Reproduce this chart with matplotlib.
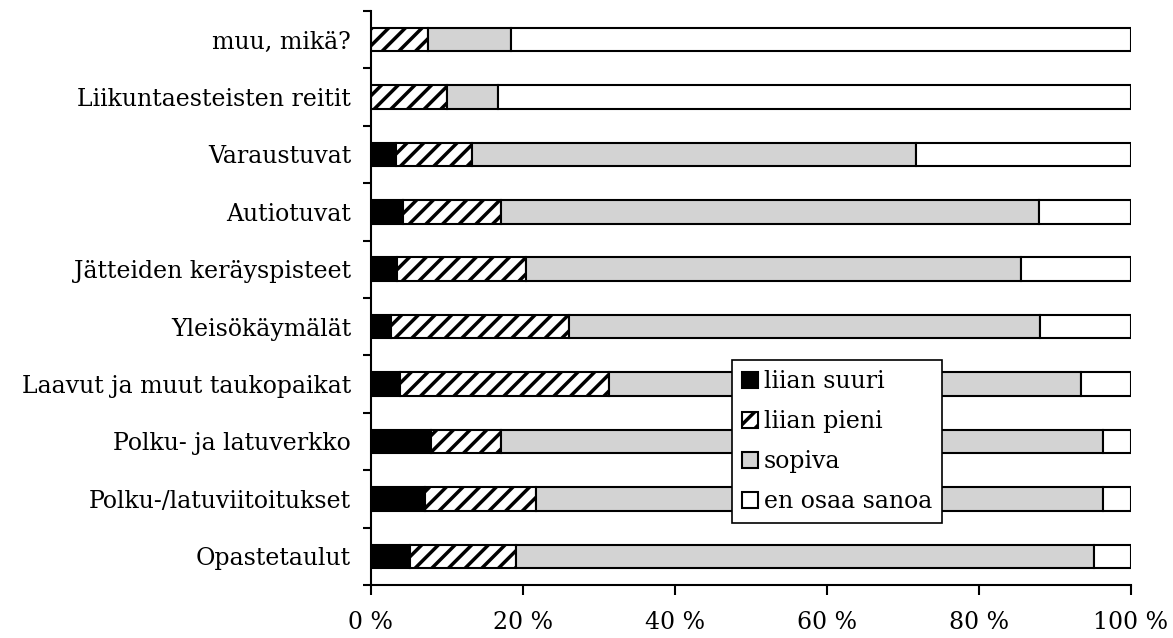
import matplotlib
matplotlib.use('Agg')
import matplotlib.pyplot as plt
import numpy as np

plt.rcParams['font.family'] = 'DejaVu Serif'
plt.rcParams['hatch.linewidth'] = 2.5

# kategoriat ylhäältä alas
categories = ['muu, mikä?', 'Liikuntaesteisten reitit', 'Varaustuvat', 'Autiotuvat',
              'Jätteiden keräyspisteet', 'Yleisökäymälät', 'Laavut ja muut taukopaikat',
              'Polku- ja latuverkko', 'Polku-/latuviitoitukset', 'Opastetaulut']
liian_suuri = [0.0, 0.0, 3.3, 4.2, 3.4, 2.7, 3.9, 7.9, 7.1, 5.2]
liian_pieni = [7.6, 10.1, 10.0, 12.9, 17.1, 23.4, 27.4, 9.3, 14.7, 13.9]
sopiva = [10.8, 6.7, 58.4, 70.8, 65.1, 62.0, 62.2, 79.2, 74.6, 76.0]
en_osaa = [81.6, 83.2, 28.3, 12.1, 14.4, 11.9, 6.5, 3.6, 3.6, 4.9]
series_names = ['liian suuri', 'liian pieni', 'sopiva', 'en osaa sanoa']

fig = plt.figure(figsize=(11.73, 6.38), dpi=100)
ax = fig.add_axes([0.316, 0.083, 0.648, 0.9])

y = np.arange(len(categories))
left = np.zeros(len(categories))
styles = [dict(color='black'), dict(color='white', hatch='//'),
          dict(color='#d3d3d3'), dict(color='white')]
for vals, name, st in zip([liian_suuri, liian_pieni, sopiva, en_osaa], series_names, styles):
    ax.barh(y, vals, left=left, height=0.41, label=name, edgecolor='black',
            linewidth=1.5, **st)
    left += np.array(vals)

fs = 17
ax.set_xlim(0, 100)
ax.set_ylim(len(categories) - 0.5, -0.5)
ax.set_yticks(y)
ax.set_yticklabels(categories, fontsize=fs)
ax.set_yticks(np.arange(-0.5, len(categories)), minor=True)
ax.tick_params(axis='y', which='major', length=0, pad=14)
ax.tick_params(axis='y', which='minor', length=6, width=1.5)
ax.set_xticks(np.arange(0, 101, 20))
ax.set_xticklabels(['%d %%' % v for v in range(0, 101, 20)], fontsize=fs)
ax.tick_params(axis='x', length=7, width=1.5, pad=12)
for s in ['top', 'right']:
    ax.spines[s].set_visible(False)
for s in ['left', 'bottom']:
    ax.spines[s].set_linewidth(1.5)

leg = ax.legend(loc='lower left', bbox_to_anchor=(0.475, 0.108), fontsize=fs,
                frameon=True, fancybox=False, handlelength=0.7, handleheight=0.7,
                handletextpad=0.25, borderaxespad=0, labelspacing=0.72,
                borderpad=0.42)
leg.get_frame().set_edgecolor('black')
leg.get_frame().set_linewidth(1.2)
leg.get_frame().set_alpha(1)

fig.savefig('out.png', dpi=100)
